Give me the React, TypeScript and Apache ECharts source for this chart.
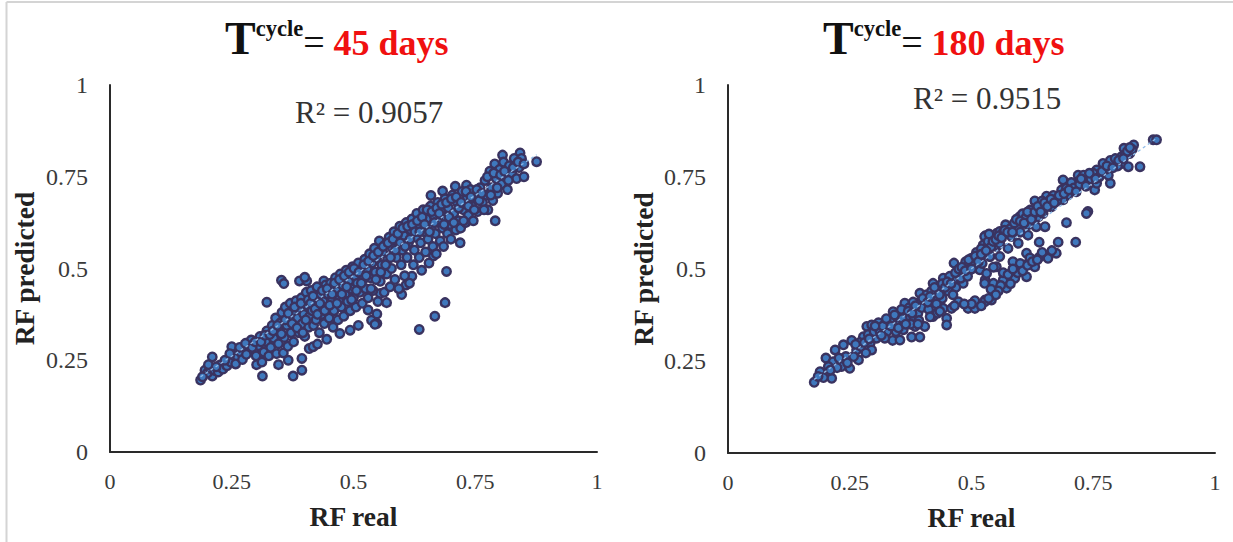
import React, { useEffect, useRef } from "react";
import * as echarts from "echarts";

const tickValues = [0, 0.25, 0.5, 0.75, 1];
const r2Left = "R² = 0.9057";
const r2Right = "R² = 0.9515";
const xName = "RF real";
const yName = "RF predicted";
const trend45 = [[0.186, 0.205], [0.876, 0.81]];
const trend180 = [[0.177, 0.2], [0.88, 0.855]];

const points45 = [
  [.186,.196],[.21,.259],[.195,.223],[.21,.207],[.25,.287],[.226,.237],[.313,.207],[.376,.207],[.394,.223],[.394,.255],
  [.366,.25],[.346,.238],[.301,.238],[.322,.408],[.352,.468],[.357,.459],[.389,.466],[.404,.466],[.4,.476],[.439,.466],
  [.409,.282],[.417,.287],[.426,.294],[.445,.307],[.472,.323],[.493,.332],[.51,.345],[.53,.387],[.537,.359],[.548,.35],
  [.876,.791],[.842,.815],[.806,.809],[.791,.63],[.719,.57],[.664,.534],[.691,.492],[.688,.407],[.667,.37],[.635,.334],
  [.568,.407],[.599,.429],[.544,.348],[.548,.376],[.659,.699],[.683,.711],[.709,.724],[.732,.727],[.62,.479],[.608,.455],[.555,.432],
  [.2,.215],[.205,.228],[.215,.222],[.222,.218],[.232,.226],[.24,.235],[.248,.245],[.255,.262],[.262,.258],[.268,.272],
  [.258,.24],[.272,.252],[.28,.266],[.285,.29],[.29,.305],[.296,.278],[.3,.262],[.305,.29],[.308,.315],[.312,.245],
  [.316,.272],[.32,.3],[.322,.33],[.326,.262],[.33,.285],[.333,.345],[.336,.31],[.34,.365],[.342,.268],[.346,.295],
  [.348,.33],[.35,.352],[.353,.38],[.356,.27],[.358,.312],[.36,.395],[.363,.345],[.365,.288],[.368,.36],[.37,.405],
  [.372,.325],[.375,.38],[.377,.3],[.38,.345],[.382,.412],[.385,.365],[.388,.325],[.39,.39],[.393,.42],[.395,.35],
  [.398,.375],[.4,.315],[.403,.435],[.405,.4],[.408,.34],[.41,.37],[.413,.44],[.415,.385],[.418,.345],[.42,.415],
  [.423,.36],[.425,.45],[.428,.395],[.43,.325],[.433,.43],[.435,.375],[.438,.41],[.44,.35],[.443,.455],[.445,.39],
  [.448,.43],[.45,.365],[.453,.46],[.455,.41],[.458,.34],[.46,.385],[.463,.475],[.465,.44],[.468,.36],[.47,.415],
  [.473,.485],[.475,.395],[.478,.455],[.48,.37],[.483,.43],[.485,.495],[.488,.41],[.49,.465],[.493,.385],[.495,.445],
  [.498,.505],[.5,.42],[.503,.48],[.505,.395],[.508,.46],[.51,.515],[.513,.435],[.515,.495],[.518,.405],[.52,.47],
  [.523,.525],[.525,.445],[.528,.5],[.53,.42],[.533,.54],[.535,.475],[.538,.515],[.54,.44],[.543,.555],[.545,.49],
  [.548,.53],[.55,.41],[.553,.575],[.555,.465],[.558,.51],[.56,.545],[.563,.435],[.565,.565],[.568,.485],[.57,.525],
  [.573,.585],[.575,.45],[.578,.5],[.58,.555],[.583,.6],[.585,.47],[.588,.53],[.59,.575],[.593,.445],[.595,.615],
  [.598,.51],[.6,.55],[.603,.59],[.605,.48],[.608,.625],[.61,.53],[.613,.57],[.615,.46],[.618,.605],[.62,.635],
  [.623,.51],[.625,.55],[.628,.585],[.63,.65],[.633,.62],[.635,.53],[.638,.57],[.64,.495],[.643,.66],[.645,.6],
  [.648,.545],[.65,.635],[.653,.58],[.655,.515],[.658,.67],[.66,.61],[.663,.56],[.665,.645],[.668,.595],[.67,.54],
  [.673,.68],[.675,.625],[.678,.575],[.68,.655],[.683,.61],[.685,.56],[.688,.69],[.69,.635],[.693,.595],[.695,.665],
  [.698,.62],[.7,.58],[.703,.7],[.706,.65],[.71,.605],[.713,.68],[.716,.63],[.72,.61],[.723,.71],[.726,.66],
  [.73,.625],[.733,.69],[.736,.645],[.74,.715],[.743,.67],[.746,.63],[.75,.695],[.755,.655],[.76,.72],[.765,.68],
  [.77,.74],[.773,.7],[.776,.66],[.78,.765],[.783,.72],[.786,.685],[.79,.785],[.793,.745],[.796,.705],[.8,.77],
  [.804,.73],[.808,.79],[.812,.75],[.816,.715],[.82,.78],[.825,.76],[.83,.8],[.835,.745],[.84,.775],[.845,.8],[.85,.75],
];

const extra45 = [
  [.19,.205],[.202,.238],[.218,.232],[.236,.25],[.246,.268],[.266,.285],[.278,.296],[.292,.285],[.298,.3],[.31,.3],
  [.318,.318],[.328,.32],[.335,.33],[.344,.345],[.352,.322],[.36,.36],[.366,.378],[.374,.35],[.379,.395],[.384,.338],
  [.392,.405],[.396,.325],[.402,.36],[.407,.415],[.412,.405],[.417,.425],[.421,.39],[.426,.375],[.431,.405],[.436,.44],
  [.441,.385],[.446,.445],[.451,.4],[.456,.43],[.461,.46],[.466,.405],[.471,.47],[.476,.43],[.481,.48],[.486,.45],
  [.491,.49],[.496,.415],[.501,.5],[.506,.44],[.511,.49],[.516,.46],[.521,.51],[.526,.48],[.531,.52],[.536,.445],
  [.541,.535],[.546,.47],[.551,.545],[.556,.49],[.561,.56],[.566,.51],[.571,.57],[.576,.53],[.581,.58],[.586,.55],
  [.591,.595],[.596,.57],[.601,.61],[.606,.56],[.611,.615],[.616,.58],[.621,.62],[.626,.6],[.631,.63],[.636,.6],
  [.641,.64],[.646,.62],[.651,.66],[.656,.6],[.661,.655],[.666,.625],[.671,.665],[.676,.65],[.681,.675],[.686,.62],
  [.691,.68],[.696,.64],[.701,.69],[.706,.625],[.711,.695],[.716,.665],[.721,.68],[.726,.63],[.731,.71],[.736,.67],
  [.741,.695],[.748,.66],[.753,.715],[.758,.685],[.763,.705],[.768,.66],[.775,.75],[.782,.7],[.788,.76],[.795,.72],
  [.802,.755],[.81,.765],[.818,.74],[.828,.775],[.838,.79],[.85,.785],
];

const points180 = [
  [.177,.192],[.189,.221],[.213,.203],[.201,.258],[.22,.28],[.216,.248],[.237,.294],[.254,.306],[.233,.235],[.25,.23],
  [.264,.28],[.268,.253],[.278,.316],[.285,.344],[.295,.348],[.309,.354],[.292,.298],[.305,.312],[.274,.289],[.295,.28],
  [.326,.353],[.327,.33],[.339,.384],[.338,.306],[.353,.307],[.377,.315],[.394,.315],[.363,.407],[.367,.371],[.353,.353],
  [.384,.344],[.394,.434],[.387,.407],[.404,.411],[.381,.371],[.404,.344],[.421,.371],[.421,.461],[.432,.443],[.449,.366],
  [.449,.348],[.442,.393],[.459,.393],[.473,.411],[.493,.393],[.507,.393],[.507,.414],[.464,.516],[.442,.475],[.463,.47],
  [.483,.461],[.483,.498],[.5,.529],[.517,.529],[.524,.565],[.528,.59],[.497,.498],[.517,.498],[.528,.47],[.528,.416],
  [.545,.461],[.541,.416],[.552,.597],[.538,.534],[.552,.561],
  [.873,.851],[.88,.851],[.833,.837],[.813,.828],[.846,.778],[.785,.733],[.688,.742],[.63,.685],[.599,.642],[.739,.656],
  [.736,.651],[.695,.626],[.714,.573],[.678,.573],[.639,.573],[.674,.543],[.657,.529],[.639,.531],[.613,.543],[.63,.506],
  [.613,.479],[.589,.475],[.565,.47],[.572,.448],[.544,.429],[.527,.411],[.551,.506],[.527,.588],[.558,.602],[.582,.588],
  [.596,.611],[.616,.62],[.637,.642],[.654,.698],[.678,.698],[.719,.755],[.753,.715],[.712,.733],[.736,.742],[.757,.769],
  [.77,.787],[.791,.783],[.811,.787],[.822,.778],[.808,.805],[.825,.814],[.781,.755],[.757,.733],[.698,.701],[.688,.688],
  [.664,.669],[.647,.651],[.651,.615],[.633,.615],[.616,.592],[.596,.57],[.575,.556],[.551,.565],[.538,.534],[.558,.534],
  [.585,.52],[.609,.511],[.531,.488],[.527,.461],
  [.196,.205],[.206,.235],[.224,.232],[.242,.262],[.258,.262],[.27,.3],[.283,.272],[.288,.322],[.3,.33],[.312,.33],
  [.318,.345],[.322,.312],[.333,.362],[.345,.33],[.348,.372],[.356,.39],[.36,.335],[.372,.395],[.375,.35],[.38,.41],
  [.39,.38],[.398,.395],[.408,.43],[.412,.39],[.418,.44],[.426,.42],[.43,.38],[.436,.455],[.44,.42],[.452,.44],
  [.455,.48],[.468,.45],[.47,.49],[.478,.475],[.488,.52],[.492,.48],[.505,.51],[.51,.545],[.52,.555],[.522,.515],
  [.534,.575],[.54,.56],[.545,.505],[.548,.585],[.558,.57],[.565,.6],[.57,.62],[.58,.61],[.588,.625],[.6,.6],
  [.605,.65],[.612,.64],[.62,.66],[.625,.645],[.64,.665],[.645,.685],[.66,.68],[.668,.7],[.675,.685],[.685,.715],
  [.695,.72],[.705,.735],[.71,.72],[.722,.73],[.73,.755],[.745,.745],[.75,.76],[.762,.75],[.775,.77],[.785,.795],
  [.795,.8],[.8,.78],[.815,.81],[.82,.82],[.83,.825],[.56,.455],[.58,.46],[.595,.49],[.6,.515],[.62,.53],[.645,.545],[.665,.55],[.555,.44],[.54,.445],
];

const extra180 = [
  [.185,.208],[.21,.225],[.228,.258],[.245,.245],[.262,.295],[.28,.3],[.29,.31],[.302,.345],[.315,.32],[.325,.365],
  [.335,.345],[.342,.375],[.35,.34],[.358,.365],[.365,.35],[.37,.385],[.378,.38],[.385,.4],[.392,.36],[.4,.42],
  [.41,.41],[.415,.425],[.424,.45],[.428,.405],[.434,.43],[.44,.46],[.446,.45],[.45,.465],[.458,.46],[.462,.43],
  [.467,.49],[.474,.5],[.48,.505],[.487,.495],[.494,.525],[.5,.5],[.508,.535],[.514,.52],[.52,.54],[.53,.55],
  [.536,.595],[.544,.575],[.55,.58],[.556,.59],[.562,.585],[.568,.605],[.574,.6],[.584,.6],[.592,.635],[.6,.63],
  [.608,.625],[.615,.655],[.623,.635],[.63,.655],[.636,.67],[.642,.655],[.65,.68],[.656,.67],[.663,.69],[.67,.68],
  [.68,.7],[.69,.705],[.7,.715],[.715,.71],[.725,.745],[.735,.725],[.742,.76],[.755,.745],[.768,.765],[.778,.78],
  [.79,.775],[.802,.795],[.812,.8],[.825,.83],[.565,.49],[.575,.485],[.585,.5],[.605,.495],[.615,.51],[.625,.52],
  [.635,.525],[.55,.43],[.535,.42],[.52,.4],[.5,.405],[.485,.405],[.465,.4],[.435,.385],[.415,.37],[.39,.35],
];

export default function App() {
  const ref = useRef<HTMLDivElement>(null);
  useEffect(() => {
    document.body.style.margin = "0";
    const chart = echarts.init(ref.current!, undefined, { renderer: "svg" });
    const font = "'Liberation Serif', serif";
    const axisBase = {
      type: "value" as const,
      min: 0,
      max: 1,
      interval: 0.25,
      splitLine: { show: false },
      axisTick: { show: false },
      axisLine: { show: true, lineStyle: { color: "#2a2a2a", width: 2 } },
      nameLocation: "middle" as const,
      nameTextStyle: { fontFamily: font, fontSize: 27.5, fontWeight: "bold" as const, color: "#222" },
    };
    const labelBase = {
      fontFamily: font,
      color: "#3a3a3a",
      formatter: (v: number) => (tickValues.includes(v) ? String(v) : ""),
    };
    const xLabel = { ...labelBase, fontSize: 22, margin: 18 };
    const yLabel = { ...labelBase, fontSize: 24, margin: 22, padding: [0, 0, 4, 0] };
    const titleRich = {
      t: { fontFamily: font, fontSize: 46, fontWeight: "bold" as const, color: "#111", verticalAlign: "bottom" as const, lineHeight: 44 },
      s: { fontFamily: font, fontSize: 22.5, fontWeight: "bold" as const, color: "#111", verticalAlign: "top" as const, lineHeight: 44 },
      e: { fontFamily: font, fontSize: 38, fontWeight: "normal" as const, color: "#111", verticalAlign: "bottom" as const, lineHeight: 40 },
      r: { fontFamily: font, fontSize: 36, fontWeight: "bold" as const, color: "#f01010", verticalAlign: "bottom" as const, lineHeight: 42 },
    };
    const scatter = (i: number, data: number[][]) => ({
      type: "scatter" as const,
      xAxisIndex: i,
      yAxisIndex: i,
      data,
      symbol: "circle",
      symbolSize: 8.5,
      itemStyle: { color: "#3f78bd", borderColor: "#3a3360", borderWidth: 2.4, opacity: 1 },
      z: 3,
    });
    const trend = (i: number, data: number[][]) => ({
      type: "line" as const,
      xAxisIndex: i,
      yAxisIndex: i,
      data,
      symbol: "none",
      lineStyle: { color: "#8fbbe8", width: 1.3, type: [3, 3] as number[] },
      z: 4,
    });
    chart.setOption({
      animation: false,
      backgroundColor: "#fff",
      title: [
        { text: "{t|T}{s|cycle}{e|=}{r| 45 days}", left: 220, top: 12, textStyle: { rich: titleRich } },
        { text: "{t|T}{s|cycle}{e|=}{r| 180 days}", left: 818, top: 12, textStyle: { rich: titleRich } },
        { text: r2Left, left: 290, top: 92, textStyle: { fontFamily: font, fontSize: 31, fontWeight: "normal", color: "#333" } },
        { text: r2Right, left: 908, top: 78, textStyle: { fontFamily: font, fontSize: 31, fontWeight: "normal", color: "#333" } },
      ],
      grid: [
        { left: 110, top: 85, width: 487, height: 367 },
        { left: 728, top: 85, width: 487, height: 368 },
      ],
      xAxis: [
        { ...axisBase, axisLabel: xLabel, gridIndex: 0, name: xName, nameGap: 50 },
        { ...axisBase, axisLabel: xLabel, gridIndex: 1, name: xName, nameGap: 50 },
      ],
      yAxis: [
        { ...axisBase, axisLabel: yLabel, gridIndex: 0, name: yName, nameGap: 72 },
        { ...axisBase, axisLabel: yLabel, gridIndex: 1, name: yName, nameGap: 71 },
      ],
      series: [
        scatter(0, [...points45, ...extra45]),
        trend(0, trend45),
        scatter(1, [...points180, ...extra180]),
        trend(1, trend180),
      ],
      graphic: [
        { type: "line", shape: { x1: 6.5, y1: 2, x2: 1233, y2: 2 }, style: { stroke: "#d4d4d4", lineWidth: 2 }, silent: true },
        { type: "line", shape: { x1: 6.5, y1: 2, x2: 6.5, y2: 542 }, style: { stroke: "#d4d4d4", lineWidth: 2 }, silent: true },
      ],
    });
    return () => chart.dispose();
  }, []);
  return <div ref={ref} style={{ width: 1233, height: 542 }} />;
}
